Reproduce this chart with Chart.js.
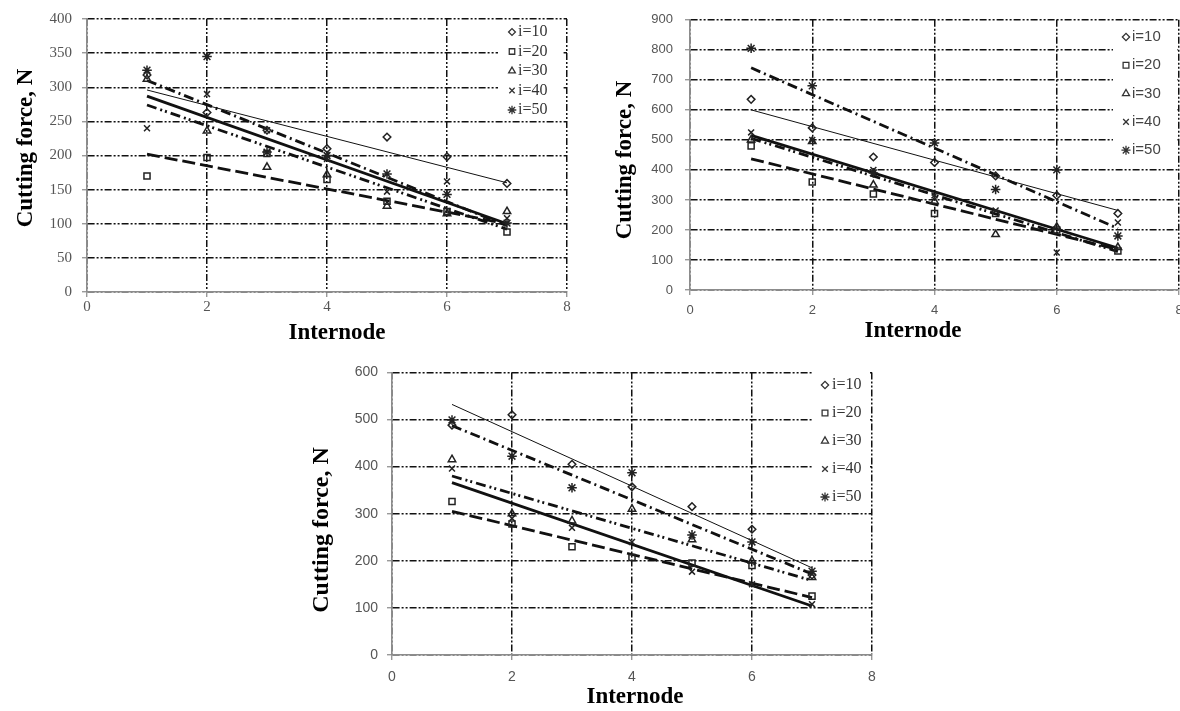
<!DOCTYPE html>
<html>
<head>
<meta charset="utf-8">
<script src="https://cdn.jsdelivr.net/npm/chart.js@4.4.1/dist/chart.umd.min.js"></script>
<style>
  html, body { margin: 0; padding: 0; background: #fff; overflow: hidden; width: 1180px; height: 711px; }
  canvas { position: absolute; }
</style>
</head>
<body>
<canvas id="c1" width="590" height="350" style="left:0px;top:0px;width:590px;height:350px"></canvas>
<canvas id="c2" width="610" height="350" style="left:590px;top:0px;width:610px;height:350px"></canvas>
<canvas id="c3" width="600" height="356" style="left:290px;top:355px;width:600px;height:356px"></canvas>
<script>
// ---------------- data ----------------
const internodes = [1, 2, 3, 4, 5, 6, 7];
const seriesNames = ['i=10', 'i=20', 'i=30', 'i=40', 'i=50'];
const trendX = [1, 7];
const xRange = [0, 8];
const xStep = 2;

// chart (top left)
const yRangeA = [0, 400];
const yStepA = 50;
const a_i10 = [318, 263, 237, 210, 227, 198, 159];
const a_i20 = [170, 197, 203, 165, 133, 118, 88];
const a_i30 = [312, 236, 183, 172, 126, 115, 118];
const a_i40 = [240, 290, 237, 195, 147, 162, 108];
const a_i50 = [325, 345, 205, 200, 173, 143, 101];
const a_trend10 = [296, 160];
const a_trend20 = [202, 100];
const a_trend30 = [274, 92];
const a_trend40 = [287, 100];
const a_trend50 = [310, 97];

// chart (top right)
const yRangeB = [0, 900];
const yStepB = 100;
const b_i10 = [635, 540, 443, 425, 380, 315, 255];
const b_i20 = [480, 360, 320, 255, 255, 200, 130];
const b_i30 = [500, 495, 350, 295, 185, 210, 142];
const b_i40 = [525, 500, 400, 315, 265, 125, 225];
const b_i50 = [805, 680, 390, 490, 335, 400, 180];
const b_trend10 = [600, 265];
const b_trend20 = [437, 135];
const b_trend30 = [505, 128];
const b_trend40 = [515, 140];
const b_trend50 = [740, 205];

// chart (bottom)
const yRangeC = [0, 600];
const yStepC = 100;
const c_i10 = [488, 510, 405, 357, 315, 267, 170];
const c_i20 = [326, 278, 230, 207, 195, 190, 125];
const c_i30 = [415, 300, 285, 310, 245, 200, 165];
const c_i40 = [396, 290, 270, 240, 177, 150, 108];
const c_i50 = [499, 422, 355, 387, 255, 240, 178];
const c_trend10 = [532, 185];
const c_trend20 = [305, 122];
const c_trend30 = [380, 158];
const c_trend40 = [366, 104];
const c_trend50 = [487, 172];

const xTitle = 'Internode';
const yTitle = 'Cutting force, N';

// ---------------- styles ----------------
const markerStyles = ['rectRot', 'rect', 'triangle', 'crossRot', 'star'];
const markerRadii = [3.8, 4.3, 4.3, 4.2, 4.8];
const trendWidths = [1, 2.8, 2.8, 2.8, 2.8];
const trendDashes = [[], [13, 5], [10, 4, 2, 3, 2, 4], [], [10, 4, 2, 4]];
const gridDash = [7, 2, 2, 2, 2, 2];

function buildDatasets(points, trends) {
  const ds = [];
  points.forEach((vals, k) => {
    ds.push({
      label: seriesNames[k],
      data: internodes.map((x, i) => ({ x: x, y: vals[i] })),
      pointStyle: markerStyles[k],
      pointRadius: markerRadii[k],
      pointBorderWidth: 1.5,
      borderColor: '#222',
      backgroundColor: 'rgba(0,0,0,0)',
      showLine: false,
      order: 0
    });
  });
  trends.forEach((vals, k) => {
    ds.push({
      label: seriesNames[k] + ' trend',
      data: trendX.map((x, i) => ({ x: x, y: vals[i] })),
      showLine: true,
      borderColor: '#111',
      borderWidth: trendWidths[k],
      borderDash: trendDashes[k],
      pointRadius: 0,
      fill: false,
      tension: 0,
      order: 1
    });
  });
  return ds;
}

const insideLegend = {
  id: 'insideLegend',
  afterDraw(chart, args, o) {
    const ctx = chart.ctx;
    ctx.save();
    ctx.fillStyle = '#fff';
    ctx.fillRect(o.box[0], o.box[1], o.box[2], o.box[3]);
    ctx.font = o.font;
    ctx.textBaseline = 'middle';
    ctx.textAlign = 'left';
    const items = chart.data.datasets.filter(d => !d.showLine);
    items.forEach((d, i) => {
      const y = o.rowY + i * o.rowStep;
      ctx.strokeStyle = '#333';
      ctx.fillStyle = 'rgba(0,0,0,0)';
      ctx.lineWidth = 1.3;
      Chart.helpers.drawPoint(ctx, { pointStyle: d.pointStyle, radius: o.markerR * d.pointRadius / 4, rotation: 0, borderWidth: 1.3 }, o.markerX, y);
      ctx.fillStyle = o.color;
      ctx.fillText(d.label, o.textX, y);
    });
    ctx.restore();
  }
};

const axisTitles = {
  id: 'axisTitles',
  afterDraw(chart, args, o) {
    const ctx = chart.ctx;
    ctx.save();
    ctx.fillStyle = '#000';
    ctx.textAlign = 'center';
    ctx.textBaseline = 'middle';
    ctx.font = o.xFont;
    ctx.fillText(o.x.text, o.x.cx, o.x.cy);
    ctx.font = o.yFont;
    ctx.translate(o.y.cx, o.y.cy);
    ctx.rotate(-Math.PI / 2);
    ctx.fillText(o.y.text, 0, 0);
    ctx.restore();
  }
};

function makeChart(id, cfg) {
  const tickFont = cfg.tickFont;
  return new Chart(document.getElementById(id), {
    type: 'scatter',
    data: { datasets: buildDatasets(cfg.points, cfg.trends) },
    plugins: [insideLegend, axisTitles],
    options: {
      responsive: false,
      animation: false,
      layout: { padding: cfg.padding },
      plugins: {
        legend: { display: false },
        tooltip: { enabled: false },
        insideLegend: cfg.legend,
        axisTitles: cfg.titles
      },
      scales: {
        x: {
          type: 'linear',
          min: xRange[0], max: xRange[1],
          ticks: { stepSize: xStep, color: cfg.tickColor, font: tickFont, padding: cfg.xTickPad },
          grid: { color: '#111', lineWidth: 1.5, tickLength: 5, tickColor: '#888', tickWidth: 1.2 },
          border: { display: true, color: '#8c8c8c', width: 1.6, dash: gridDash },
          afterFit(s) { s.height = cfg.xAxisH; }
        },
        y: {
          type: 'linear',
          min: cfg.yRange[0], max: cfg.yRange[1],
          ticks: { stepSize: cfg.yStep, color: cfg.tickColor, font: tickFont, padding: cfg.yTickPad },
          grid: { color: '#111', lineWidth: 1.5, tickLength: 5, tickColor: '#888', tickWidth: 1.2 },
          border: { display: true, color: '#8c8c8c', width: 1.6, dash: gridDash },
          afterFit(s) { s.width = cfg.yAxisW; }
        }
      }
    }
  });
}

const titleFont = 'bold 23px "Liberation Serif", "Times New Roman", serif';

makeChart('c1', {
  points: [a_i10, a_i20, a_i30, a_i40, a_i50],
  trends: [a_trend10, a_trend20, a_trend30, a_trend40, a_trend50],
  yRange: yRangeA, yStep: yStepA,
  padding: { top: 15, right: 23, left: 0, bottom: 0 },
  yAxisW: 87, xAxisH: 58,
  tickFont: { family: '"Liberation Serif", serif', size: 15 },
  tickColor: '#555', xTickPad: 1, yTickPad: 10,
  legend: { box: [498, 22, 64, 97], rowY: 32, rowStep: 19.5, markerX: 512, textX: 518, markerR: 3.6,
            font: '16px "Liberation Serif", serif', color: '#333' },
  titles: { xFont: titleFont, yFont: titleFont, x: { text: xTitle, cx: 337, cy: 333 }, y: { text: yTitle, cx: 26, cy: 148 } }
});

makeChart('c2', {
  points: [b_i10, b_i20, b_i30, b_i40, b_i50],
  trends: [b_trend10, b_trend20, b_trend30, b_trend40, b_trend50],
  yRange: yRangeB, yStep: yStepB,
  padding: { top: 16, right: 21, left: 0, bottom: 0 },
  yAxisW: 100, xAxisH: 60,
  tickFont: { family: '"Liberation Sans", sans-serif', size: 13 },
  tickColor: '#555', xTickPad: 8, yTickPad: 12,
  legend: { box: [523, 22, 64, 143], rowY: 37, rowStep: 28.3, markerX: 536, textX: 542, markerR: 3.8,
            font: '15px "Liberation Sans", sans-serif', color: '#444' },
  titles: { xFont: titleFont, yFont: titleFont, x: { text: xTitle, cx: 323, cy: 331 }, y: { text: yTitle, cx: 35, cy: 160 } }
});

makeChart('c3', {
  points: [c_i10, c_i20, c_i30, c_i40, c_i50],
  trends: [c_trend10, c_trend20, c_trend30, c_trend40, c_trend50],
  yRange: yRangeC, yStep: yStepC,
  padding: { top: 15, right: 18, left: 0, bottom: 0 },
  yAxisW: 102, xAxisH: 56,
  tickFont: { family: '"Liberation Sans", sans-serif', size: 14 },
  tickColor: '#555', xTickPad: 9, yTickPad: 9,
  legend: { box: [523, 17, 57, 138], rowY: 30, rowStep: 28, markerX: 535, textX: 542, markerR: 3.8,
            font: '16px "Liberation Serif", serif', color: '#333' },
  titles: { xFont: titleFont, yFont: 'bold 24px "Liberation Serif", "Times New Roman", serif', x: { text: xTitle, cx: 345, cy: 342 }, y: { text: yTitle, cx: 32, cy: 175 } }
});
</script>
</body>
</html>
